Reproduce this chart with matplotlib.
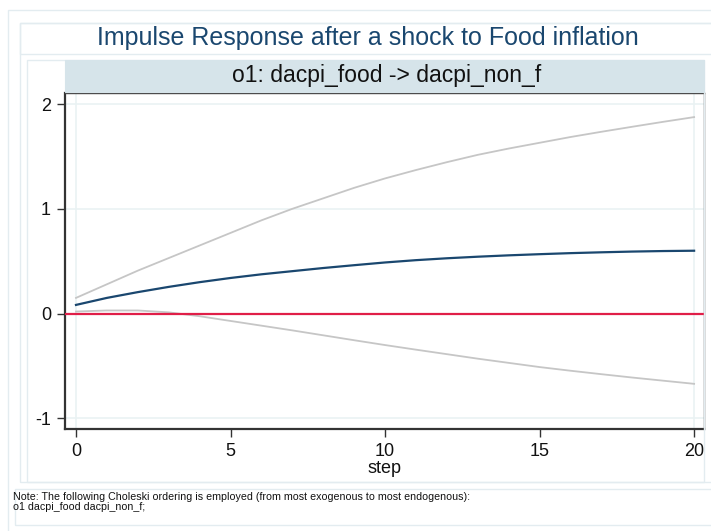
"""
Impulse response (Stata irf style): shock to food inflation -> non-food inflation
"""
import matplotlib
matplotlib.use("Agg")
import matplotlib.pyplot as plt
from matplotlib.patches import Rectangle

plt.rcParams["font.family"] = ["Liberation Sans", "DejaVu Sans"]

# ===== data =====
step = list(range(21))
irf = [0.083, 0.15, 0.205, 0.255, 0.30, 0.34, 0.375, 0.405, 0.435, 0.462, 0.488,
       0.51, 0.528, 0.543, 0.556, 0.567, 0.577, 0.585, 0.592, 0.597, 0.60]
upper = [0.15, 0.28, 0.41, 0.53, 0.65, 0.77, 0.89, 1.00, 1.10, 1.20, 1.29,
         1.37, 1.445, 1.515, 1.575, 1.63, 1.685, 1.735, 1.783, 1.83, 1.875]
lower = [0.02, 0.03, 0.03, 0.012, -0.025, -0.07, -0.115, -0.16, -0.207, -0.254, -0.30,
         -0.344, -0.387, -0.43, -0.47, -0.51, -0.545, -0.578, -0.61, -0.64, -0.67]
xticks = [0, 5, 10, 15, 20]
yticks = [-1, 0, 1, 2]

title = "Impulse Response after a shock to Food inflation"
panel = "o1: dacpi_food -> dacpi_non_f"
note = ("Note: The following Choleski ordering is employed (from most exogenous to most endogenous):\n"
        "o1 dacpi_food dacpi_non_f;")

NAVY = "#1A476F"
GRID = "#EAF2F3"
FRAME = "#E3ECF0"
STRIP = "#D6E4EA"

W, H = 711, 531
fig = plt.figure(figsize=(W / 100, H / 100), dpi=100)

def px_rect(x0, y0, x1, y1, **kw):
    """rectangle given in pixel coords (top-left origin)"""
    r = Rectangle((x0 / W, 1 - y1 / H), (x1 - x0) / W, (y1 - y0) / H,
                  transform=fig.transFigure, **kw)
    fig.add_artist(r)

# frames of the graph regions
px_rect(8, 10, 730, 550, fill=False, ec=FRAME, lw=1)
px_rect(20, 23, 730, 482, fill=False, ec=FRAME, lw=1)
px_rect(20, 23, 730, 54, fill=False, ec=FRAME, lw=1)
px_rect(27, 60, 704, 482, fill=False, ec=FRAME, lw=1)
px_rect(15, 489, 730, 525, fill=False, ec=FRAME, lw=1)
# panel strip
px_rect(65, 60, 704, 92, fc=STRIP, ec=STRIP, lw=0.8)

fig.text(368 / W, 1 - 38 / H, title, ha="center", va="center",
         fontsize=18, color=NAVY)
fig.text(387 / W, 1 - 76 / H, panel, ha="center", va="center",
         fontsize=16.5, color="#111111")
fig.text(13 / W, 1 - 502 / H, note, ha="left", va="center",
         fontsize=7.7, color="#111111", linespacing=1.05)

# ===== plot area =====
ax = fig.add_axes([65 / W, 1 - 429 / H, (704 - 65) / W, (429 - 93) / H])
ax.set_xlim(-0.356, 20.32)
ax.set_ylim(-1.101, 2.105)

for v in yticks:
    ax.axhline(v, color=GRID, lw=1.2, zorder=0)
for v in (xticks[0], xticks[-1]):
    ax.axvline(v, color=GRID, lw=1.2, zorder=0)

ax.plot(step, upper, color="#C6C6C6", lw=1.3, zorder=2)
ax.plot(step, lower, color="#C6C6C6", lw=1.3, zorder=2)
ax.axhline(0, color="#E01E48", lw=1.6, zorder=3)
ax.plot(step, irf, color=NAVY, lw=1.6, zorder=4)

ax.set_xticks(xticks)
ax.set_yticks(yticks)
ax.set_yticklabels([str(v) for v in yticks])
ax.tick_params(direction="out", length=6, width=1, labelsize=13,
               pad=4, color="#333333", labelcolor="#111111")
ax.set_xlabel("step", fontsize=13, labelpad=0, color="#111111")

for side in ("left", "bottom"):
    ax.spines[side].set_linewidth(1.6)
    ax.spines[side].set_color("#333333")
for side in ("top", "right"):
    ax.spines[side].set_linewidth(1.0)
    ax.spines[side].set_color("#444444")

fig.savefig("out.png", dpi=100)
